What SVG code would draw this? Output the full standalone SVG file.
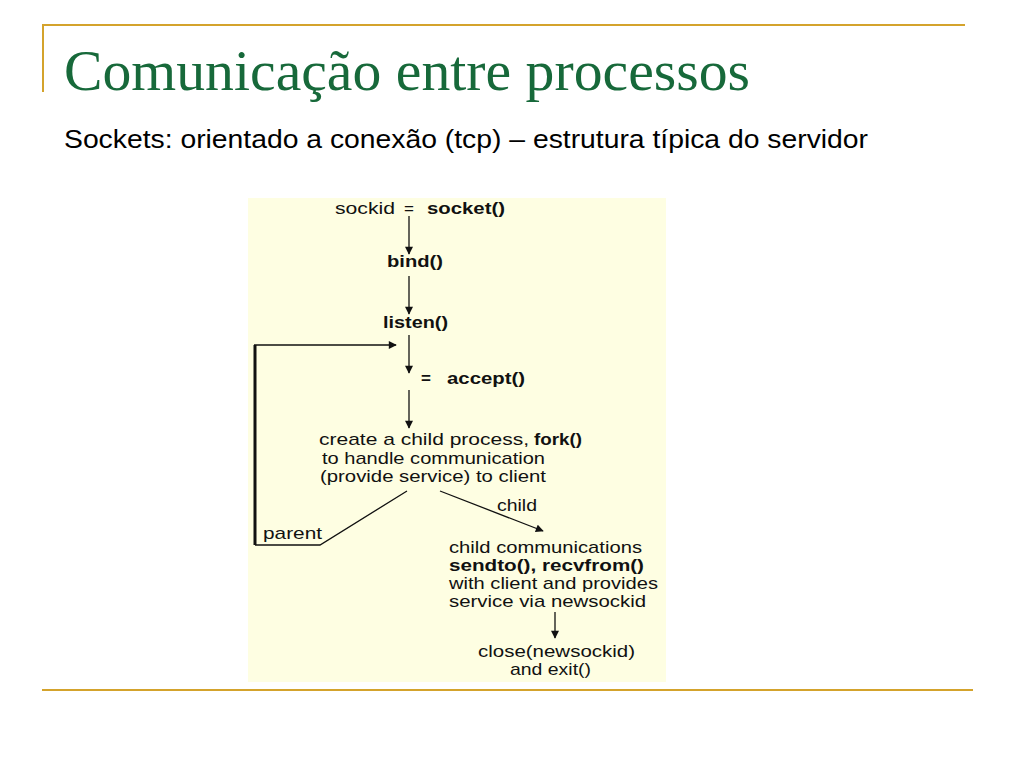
<svg xmlns="http://www.w3.org/2000/svg" width="1024" height="768" viewBox="0 0 1024 768">
<defs>
<style>
.t{font-family:"Liberation Sans",Arial,sans-serif;font-size:17px;fill:#111}
.b{font-weight:bold}
.ln{stroke:#111;stroke-width:1.3;fill:none}
.gold{stroke:#d4a32c;stroke-width:2;fill:none}
</style>
<marker id="ah" viewBox="0 0 10 10" refX="9" refY="5" markerWidth="9" markerHeight="8" markerUnits="userSpaceOnUse" orient="auto">
<path d="M0,0 L10,5 L0,10 z" fill="#111"/>
</marker>
</defs>
<rect width="1024" height="768" fill="#ffffff"/>
<g id="frame">
<path class="gold" d="M43,92 V25 H965"/>
<path class="gold" d="M42,690 H973"/>
</g>
<text x="64" y="90" font-family="'Liberation Serif','Times New Roman',serif" font-size="56" fill="#17693a" textLength="686" lengthAdjust="spacingAndGlyphs">Comunicação entre processos</text>
<text x="64" y="148" font-family="'Liberation Sans',Arial,sans-serif" font-size="26" fill="#000" textLength="804" lengthAdjust="spacingAndGlyphs">Sockets: orientado a conexão (tcp) – estrutura típica do servidor</text>
<rect id="panel" x="248" y="198" width="418" height="484" fill="#fefee2"/>
<g id="connectors">
<line class="ln" x1="409" y1="216" x2="409" y2="254" marker-end="url(#ah)"/>
<line class="ln" x1="409" y1="276" x2="409" y2="314" marker-end="url(#ah)"/>
<line class="ln" x1="409" y1="335" x2="409" y2="373" marker-end="url(#ah)"/>
<line class="ln" x1="409" y1="390" x2="409" y2="428" marker-end="url(#ah)"/>
<line class="ln" x1="555" y1="612" x2="555" y2="638" marker-end="url(#ah)"/>
<line class="ln" x1="440" y1="491" x2="543" y2="531" marker-end="url(#ah)"/>
<path class="ln" d="M407,491 L320,545 H255"/>
<path d="M255,545 V345" stroke="#111" stroke-width="3" fill="none"/>
<line class="ln" x1="254" y1="345" x2="396" y2="345" marker-end="url(#ah)"/>
</g>
<g id="n-socket">
<text class="t" x="335" y="214" textLength="60" lengthAdjust="spacingAndGlyphs" fill="#333">sockid</text>
<text class="t" x="404" y="214" fill="#333">=</text>
<text class="t b" x="427" y="214" textLength="78" lengthAdjust="spacingAndGlyphs">socket()</text>
</g>
<g id="n-bind">
<text class="t b" x="387" y="267" textLength="56" lengthAdjust="spacingAndGlyphs">bind()</text>
</g>
<g id="n-listen">
<text class="t b" x="383" y="328" textLength="65" lengthAdjust="spacingAndGlyphs">listen()</text>
</g>
<g id="n-accept">
<text class="t b" x="421" y="384" fill="#777">=</text>
<text class="t b" x="447" y="384" textLength="78" lengthAdjust="spacingAndGlyphs">accept()</text>
</g>
<g id="n-fork">
<text class="t" x="319" y="445" textLength="210" lengthAdjust="spacingAndGlyphs">create a child process,</text>
<text class="t b" x="534" y="445" textLength="48" lengthAdjust="spacingAndGlyphs">fork()</text>
<text class="t" x="322" y="464" textLength="223" lengthAdjust="spacingAndGlyphs">to handle communication</text>
<text class="t" x="320" y="482" textLength="226" lengthAdjust="spacingAndGlyphs">(provide service) to client</text>
</g>
<g id="l-parent">
<text class="t" x="263" y="539" textLength="59" lengthAdjust="spacingAndGlyphs">parent</text>
</g>
<g id="l-child">
<text class="t" x="497" y="511" textLength="40" lengthAdjust="spacingAndGlyphs">child</text>
</g>
<g id="n-child">
<text class="t" x="449" y="553" textLength="193" lengthAdjust="spacingAndGlyphs">child communications</text>
<text class="t b" x="449" y="571" textLength="195" lengthAdjust="spacingAndGlyphs">sendto(), recvfrom()</text>
<text class="t" x="449" y="589" textLength="209" lengthAdjust="spacingAndGlyphs">with client and provides</text>
<text class="t" x="449" y="607" textLength="197" lengthAdjust="spacingAndGlyphs">service via newsockid</text>
</g>
<g id="n-close">
<text class="t" x="478" y="657" textLength="157" lengthAdjust="spacingAndGlyphs">close(newsockid)</text>
<text class="t" x="510" y="675" textLength="81" lengthAdjust="spacingAndGlyphs">and exit()</text>
</g>
</svg>
